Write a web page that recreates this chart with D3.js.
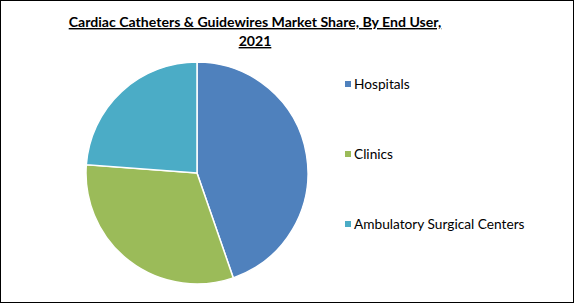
<!DOCTYPE html>
<html>
<head>
<meta charset="utf-8">
<script src="https://cdn.jsdelivr.net/npm/d3@7"></script>
<style>
  html, body { margin: 0; padding: 0; background: #fff; }
  svg { display: block; font-family: Lato, "Liberation Sans", sans-serif; }
</style>
</head>
<body>
<svg id="chart" width="575" height="304"></svg>
<script>
// Chart data
const categories = ["Hospitals", "Clinics", "Ambulatory Surgical Centers"];
const shares = [44.7, 31.5, 23.8];
const colors = ["#4F81BD", "#9BBB59", "#4BACC6"];
const titleLines = ["Cardiac Catheters & Guidewires Market Share, By End User,", "2021"];

const width = 575;
const height = 304;
const svg = d3.select("#chart");

// Frame around the whole chart
svg.append("rect")
    .attr("x", 0.5).attr("y", 0.5)
    .attr("width", width - 2).attr("height", height - 2)
    .attr("fill", "#fff")
    .attr("stroke", "#000")
    .attr("stroke-width", 1);

// Title
svg.append("g")
    .selectAll("text")
    .data(titleLines)
    .join("text")
    .attr("x", 255)
    .attr("y", (d, i) => 27 + i * 19)
    .attr("text-anchor", "middle")
    .attr("font-size", 14.1)
    .attr("font-weight", "bold")
    .attr("text-decoration", "underline")
    .attr("fill", "#000")
    .text(d => d);

// Pie
const data = categories.map((c, i) => ({ label: c, value: shares[i], color: colors[i] }));
const pie = d3.pie().sort(null).value(d => d.value);
const arc = d3.arc().innerRadius(0).outerRadius(111);

svg.append("g")
    .attr("transform", "translate(197,173)")
    .selectAll("path")
    .data(pie(data))
    .join("path")
    .attr("d", arc)
    .attr("fill", d => d.data.color)
    .attr("stroke", "#fff")
    .attr("stroke-width", 1.5);

// Legend
const y = d3.scalePoint().domain(categories).range([84, 224]);
const legend = svg.append("g")
    .selectAll("g")
    .data(data)
    .join("g")
    .attr("transform", d => `translate(345,${y(d.label)})`);

legend.append("rect")
    .attr("x", 0).attr("y", -3)
    .attr("width", 6).attr("height", 6)
    .attr("fill", d => d.color);

legend.append("text")
    .attr("x", 9)
    .attr("dy", "0.35em")
    .attr("font-size", 13.7)
    .attr("fill", "#000")
    .text(d => d.label);
</script>
</body>
</html>
